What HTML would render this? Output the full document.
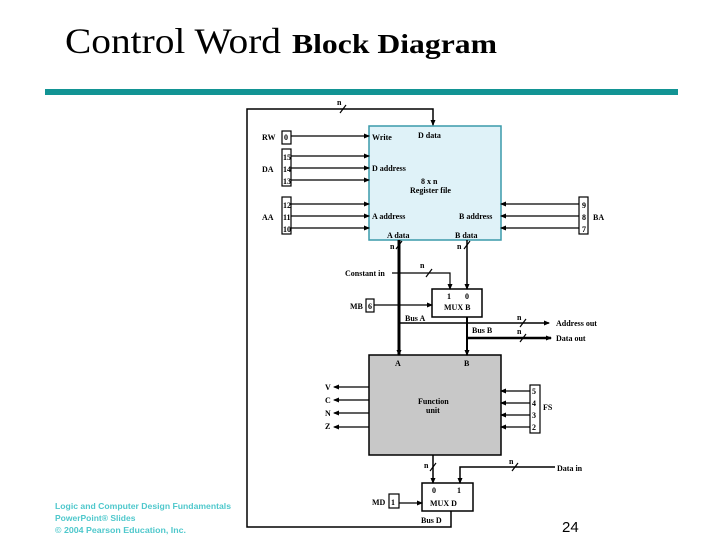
<!DOCTYPE html>
<html><head><meta charset="utf-8"><style>
body{margin:0;background:#fff;}
svg{display:block}
text{font-family:"Liberation Serif",serif;font-size:8px;font-weight:bold;}
text.logo{font-family:"Liberation Sans",sans-serif;font-weight:bold;font-size:8.5px;fill:#4fc8cc;}
</style></head><body>
<svg width="720" height="540" viewBox="0 0 720 540" xmlns="http://www.w3.org/2000/svg">
<defs>
<marker id="ar" markerWidth="6" markerHeight="6" refX="5" refY="3" orient="auto" markerUnits="userSpaceOnUse"><path d="M0,0.5 L6,3 L0,5.5z" fill="#000"/></marker>
</defs>
<text x="65" y="53" style="font-size:36px;font-weight:normal" textLength="216" lengthAdjust="spacingAndGlyphs">Control Word</text>
<text x="292" y="53" style="font-size:27px" textLength="205" lengthAdjust="spacingAndGlyphs">Block Diagram</text>
<rect x="45" y="89" width="633" height="6" fill="#129494"/>

<g stroke="#000" fill="none" stroke-width="1.2">
<rect x="369" y="126" width="132" height="114" fill="#dff2f8" stroke="#3a9aaa" stroke-width="1.5"/>
<rect x="369" y="355" width="132" height="100" fill="#c8c8c8" stroke-width="1.5"/>
<rect x="432" y="289" width="50" height="28" stroke-width="1.5"/>
<rect x="422" y="483" width="51" height="28" stroke-width="1.5"/>
<polyline points="451,511 451,527 247,527 247,109 433,109 433,125" stroke-width="1.5" marker-end="url(#ar)"/>
<rect x="282" y="131" width="9" height="13"/>
<rect x="282" y="149" width="9" height="37"/>
<rect x="282" y="197" width="9" height="37"/>
<rect x="579" y="197" width="9" height="37"/>
<rect x="366" y="299" width="8" height="13"/>
<rect x="530" y="385" width="10" height="48"/>
<rect x="389" y="494" width="10" height="14"/>
<g marker-end="url(#ar)">
<line x1="291" y1="136" x2="369" y2="136"/>
<line x1="291" y1="156" x2="369" y2="156"/>
<line x1="291" y1="168" x2="369" y2="168"/>
<line x1="291" y1="180" x2="369" y2="180"/>
<line x1="291" y1="204" x2="369" y2="204"/>
<line x1="291" y1="216" x2="369" y2="216"/>
<line x1="291" y1="228" x2="369" y2="228"/>
<line x1="579" y1="204" x2="501" y2="204"/>
<line x1="579" y1="216" x2="501" y2="216"/>
<line x1="579" y1="228" x2="501" y2="228"/>
<line x1="374" y1="305" x2="432" y2="305"/>
<polyline points="392,273 450,273 450,289"/>
<line x1="467" y1="240" x2="467" y2="289" stroke-width="1.5"/>
<line x1="369" y1="387" x2="334" y2="387"/>
<line x1="369" y1="400" x2="334" y2="400"/>
<line x1="369" y1="413" x2="334" y2="413"/>
<line x1="369" y1="427" x2="334" y2="427"/>
<line x1="530" y1="391" x2="501" y2="391"/>
<line x1="530" y1="403" x2="501" y2="403"/>
<line x1="530" y1="415" x2="501" y2="415"/>
<line x1="530" y1="427" x2="501" y2="427"/>
<line x1="399" y1="503" x2="422" y2="503"/>
<line x1="433" y1="455" x2="433" y2="483" stroke-width="1.5"/>
<polyline points="555,467 460,467 460,483" stroke-width="1.5"/>
<line x1="399" y1="323" x2="549" y2="323" stroke-width="1.5"/>
<line x1="467" y1="338" x2="551" y2="338" stroke-width="2.5"/>
<line x1="399" y1="240" x2="399" y2="355" stroke-width="3"/>
<line x1="467" y1="317" x2="467" y2="355" stroke-width="2"/>
</g>
<line x1="340" y1="113" x2="346" y2="105"/>
<line x1="396" y1="249" x2="402" y2="241"/>
<line x1="464" y1="249" x2="470" y2="241"/>
<line x1="426" y1="277" x2="432" y2="269"/>
<line x1="520" y1="327" x2="526" y2="319"/>
<line x1="520" y1="342" x2="526" y2="334"/>
<line x1="430" y1="471" x2="436" y2="463"/>
<line x1="512" y1="471" x2="518" y2="463"/>
</g>

<text x="262" y="140">RW</text><text x="284" y="140">0</text>
<text x="262" y="172">DA</text><text x="283" y="160">15</text><text x="283" y="172">14</text><text x="283" y="184">13</text>
<text x="262" y="220">AA</text><text x="283" y="208">12</text><text x="283" y="220">11</text><text x="283" y="232">10</text>
<text x="582" y="208">9</text><text x="582" y="220">8</text><text x="582" y="232">7</text><text x="593" y="220">BA</text>
<text x="337" y="105">n</text>
<text x="372" y="140">Write</text>
<text x="418" y="138">D data</text>
<text x="372" y="171">D address</text>
<text x="421" y="184">8 x n</text>
<text x="410" y="193">Register file</text>
<text x="372" y="219">A address</text>
<text x="459" y="219">B address</text>
<text x="387" y="238">A data</text>
<text x="455" y="238">B data</text>
<text x="390" y="249">n</text><text x="457" y="249">n</text>
<text x="345" y="276">Constant in</text>
<text x="420" y="268">n</text>
<text x="447" y="299">1</text><text x="465" y="299">0</text>
<text x="444" y="310">MUX B</text>
<text x="350" y="309">MB</text><text x="368" y="309">6</text>
<text x="405" y="321">Bus A</text>
<text x="472" y="333">Bus B</text>
<text x="517" y="320">n</text><text x="517" y="334">n</text>
<text x="556" y="326">Address out</text>
<text x="556" y="341">Data out</text>
<text x="395" y="366">A</text><text x="464" y="366">B</text>
<text x="325" y="390">V</text><text x="325" y="403">C</text><text x="325" y="416">N</text><text x="325" y="429">Z</text>
<text x="418" y="404">Function</text><text x="426" y="413">unit</text>
<text x="532" y="394">5</text><text x="532" y="406">4</text><text x="532" y="418">3</text><text x="532" y="430">2</text>
<text x="543" y="410">FS</text>
<text x="424" y="468">n</text><text x="509" y="464">n</text>
<text x="557" y="471">Data in</text>
<text x="432" y="493">0</text><text x="457" y="493">1</text>
<text x="430" y="506">MUX D</text>
<text x="372" y="505">MD</text><text x="391" y="505">1</text>
<text x="421" y="523">Bus D</text>
<text x="562" y="532" style="font-family:'Liberation Sans',sans-serif;font-weight:normal;font-size:15px">24</text>
<text class="logo" x="55" y="509" textLength="176" lengthAdjust="spacingAndGlyphs">Logic and Computer Design Fundamentals</text>
<text class="logo" x="55" y="521">PowerPoint® Slides</text>
<text class="logo" x="55" y="533" textLength="131" lengthAdjust="spacingAndGlyphs">© 2004 Pearson Education, Inc.</text>
</svg>
</body></html>
